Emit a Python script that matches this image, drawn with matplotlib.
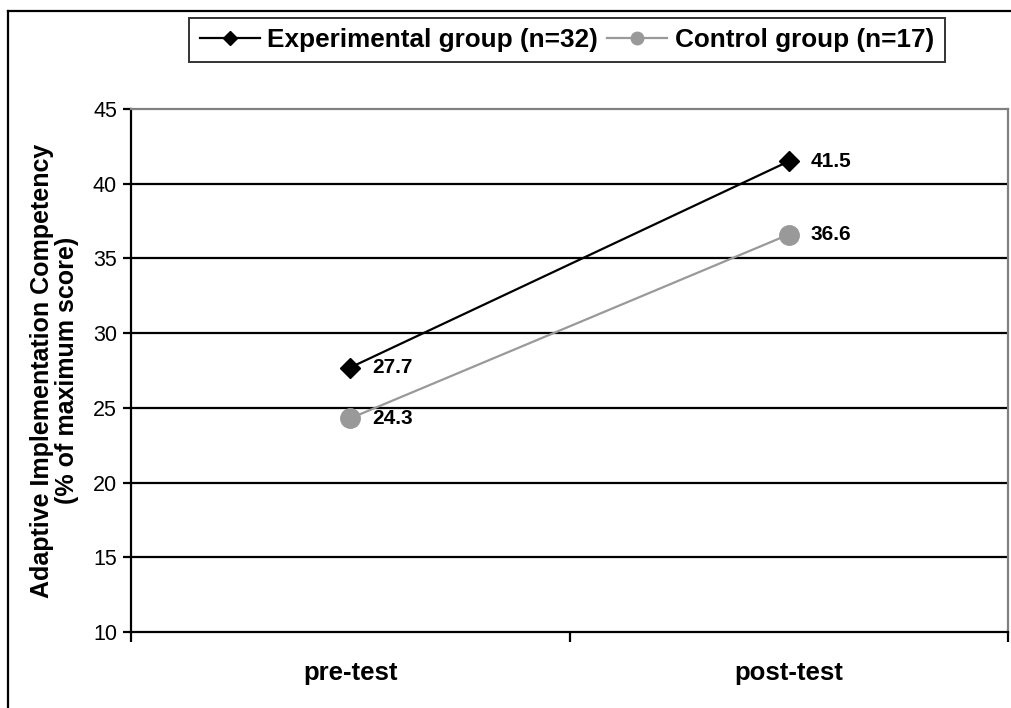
import matplotlib
matplotlib.use("Agg")
import matplotlib.pyplot as plt
from matplotlib.lines import Line2D

plt.rcParams['font.family'] = ['Liberation Sans', 'DejaVu Sans']

# Data
phases = ["pre-test", "post-test"]
experimental = [27.7, 41.5]
control = [24.3, 36.6]
exp_label = "Experimental group (n=32)"
ctrl_label = "Control group (n=17)"
y_ticks = [10, 15, 20, 25, 30, 35, 40, 45]

W, H = 1011, 708
fig = plt.figure(figsize=(W / 100, H / 100), dpi=100)
ax = fig.add_axes([131 / W, 1 - 632 / H, 877 / W, 523 / H])

x = [0.5, 1.5]
gray = "#999999"

# horizontal gridlines (top edge is the gray plot border)
for t in y_ticks[1:-1]:
    ax.axhline(t, color="black", lw=1.6, zorder=1)

ax.plot(x, experimental, color="black", lw=1.6, marker="D", ms=10.5,
        mfc="black", mec="black", zorder=4)
ax.plot(x, control, color=gray, lw=1.6, marker="o", ms=14,
        mfc=gray, mec=gray, zorder=3)

for xi, v in zip(x, experimental):
    ax.annotate(f"{v:.1f}", (xi, v), xytext=(16, 0), textcoords="offset points",
                ha="left", va="center", fontsize=15, fontweight="bold")
for xi, v in zip(x, control):
    ax.annotate(f"{v:.1f}", (xi, v), xytext=(16, 0), textcoords="offset points",
                ha="left", va="center", fontsize=15, fontweight="bold")

ax.set_xlim(0, 2)
ax.set_ylim(10, 45)
ax.set_yticks(y_ticks)
ax.set_yticklabels([str(t) for t in y_ticks], fontsize=15.5)

# category boundary ticks with labels centered in between
ax.set_xticks([0, 1, 2])
ax.set_xticklabels([])
ax.set_xticks(x, minor=True)
ax.set_xticklabels(phases, minor=True, fontsize=18.5, fontweight="bold")
ax.tick_params(axis="x", which="major", direction="out", length=7, width=1.6, color="black")
ax.tick_params(axis="x", which="minor", length=0, pad=21)
ax.tick_params(axis="y", direction="out", length=6, width=1.6, pad=4)

for side in ("left", "bottom"):
    ax.spines[side].set_color("black")
    ax.spines[side].set_linewidth(1.6)
for side in ("top", "right"):
    ax.spines[side].set_color("#808080")
    ax.spines[side].set_linewidth(1.6)

ax.set_ylabel("Adaptive Implementation Competency\n(% of maximum score)",
              fontsize=18, fontweight="bold", linespacing=1.05, labelpad=10)

# legend with smaller handle markers
handles = [
    Line2D([], [], color="black", lw=1.6, marker="D", ms=7, mfc="black", mec="black"),
    Line2D([], [], color=gray, lw=1.6, marker="o", ms=9, mfc=gray, mec=gray),
]
leg = fig.legend(handles, [exp_label, ctrl_label], loc="center",
                 bbox_to_anchor=(567 / W, 1 - 40 / H), ncol=2,
                 frameon=True, fancybox=False, edgecolor="black",
                 handlelength=2.3, handletextpad=0.3, columnspacing=0.35,
                 borderpad=0.4, borderaxespad=0,
                 prop={"weight": "bold", "size": 18.8})
leg.get_frame().set_linewidth(1.4)

# outer chart border
fig.add_artist(Line2D([8 / W, 8 / W], [0, 1 - 11 / H], color="black", lw=1.6,
                      transform=fig.transFigure))
fig.add_artist(Line2D([8 / W, 1], [1 - 11 / H, 1 - 11 / H], color="black", lw=1.6,
                      transform=fig.transFigure))

fig.savefig("out.png", dpi=100)
